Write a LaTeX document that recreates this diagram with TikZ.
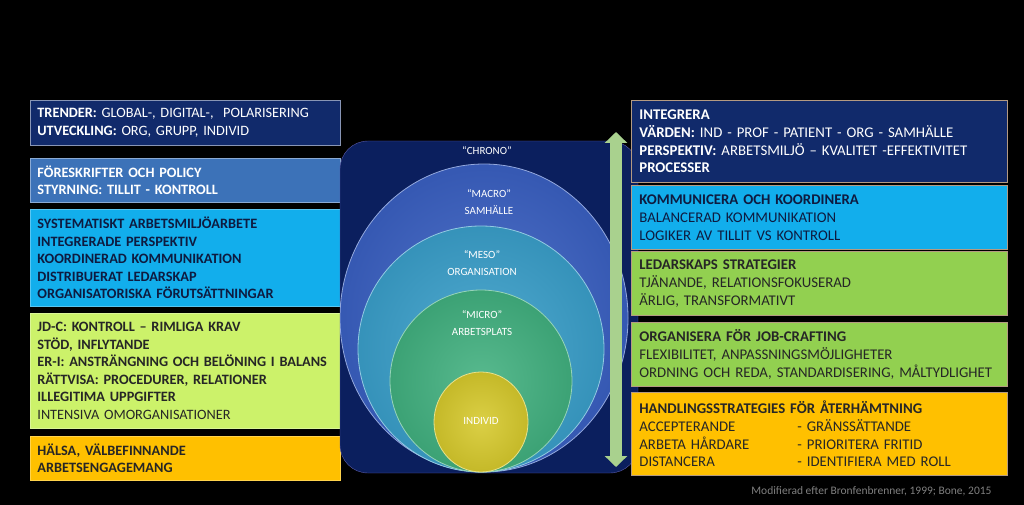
\documentclass[tikz,border=0pt]{standalone}
\usepackage{fontspec}
\setmainfont{Carlito}
\usepackage{tikz}
\usetikzlibrary{positioning, arrows.meta}

\definecolor{navybox}{HTML}{112A6B}
\definecolor{steelbox}{HTML}{3C72B8}
\definecolor{cyanbox}{HTML}{12AEEC}
\definecolor{limebox}{HTML}{CCF26A}
\definecolor{greenbox}{HTML}{92D050}
\definecolor{orangebox}{HTML}{FFC000}
\definecolor{chronobg}{HTML}{0B1F5E}
\definecolor{macrofill}{HTML}{3A60C2}
\definecolor{mesofill}{HTML}{3A9FCA}
\definecolor{microfill}{HTML}{41B07F}
\definecolor{individfill}{HTML}{D6C92C}
\definecolor{arrowgreen}{HTML}{A9D18E}
\definecolor{darktext}{HTML}{0E1B40}
\definecolor{tanline}{HTML}{B49A82}

\tikzset{
  lbox/.style={anchor=north west, inner xsep=7pt, inner ysep=0pt, text width=296pt,
    align=left, font=\fontsize{14.3}{17.5}\selectfont, line width=0.8pt},
  rbox/.style={anchor=north west, inner xsep=8pt, inner ysep=0pt, text width=360pt,
    align=left, font=\fontsize{14.8}{17.8}\selectfont, line width=0.8pt, draw=tanline},
  ringlabel/.style={text=white, align=center, font=\fontsize{11}{16.5}\selectfont},
  ring/.style={inner color=#1!88!white, outer color=#1!92!black, draw=#1!55!white, line width=0.8pt}
}

\begin{document}
\begin{tikzpicture}[x=1pt, y=-1pt]
    % Background
    \fill [black] (0,0) rectangle (1024,505);
    \useasboundingbox (0,0) rectangle (1024,505);

    % Left boxes
    \node [lbox, fill=navybox, draw=navybox!50!white, text=white, minimum height=45pt] (trender) at (30,100)
      {\textbf{TRENDER:} GLOBAL-, DIGITAL-,\ \ POLARISERING\\\textbf{UTVECKLING:} ORG, GRUPP, INDIVID};
    \node [lbox, fill=steelbox, draw=steelbox!60!white, text=white, minimum height=44pt] (policy) at (30,158)
      {\textbf{FÖRESKRIFTER OCH POLICY\\STYRNING: TILLIT - KONTROLL}};
    \node [lbox, fill=cyanbox, draw=cyanbox!70!white, text=darktext, minimum height=97pt] (sam) at (30,209)
      {\textbf{SYSTEMATISKT ARBETSMILJÖARBETE\\INTEGRERADE PERSPEKTIV\\KOORDINERAD KOMMUNIKATION\\DISTRIBUERAT LEDARSKAP\\ORGANISATORISKA FÖRUTSÄTTNINGAR}};
    \node [lbox, fill=limebox, draw=limebox!70!white, text=black!85, minimum height=115pt] (jdc) at (30,313)
      {\textbf{JD-C: KONTROLL – RIMLIGA KRAV\\STÖD, INFLYTANDE\\ER-I: ANSTRÄNGNING OCH BELÖNING I BALANS\\RÄTTVISA: PROCEDURER, RELATIONER\\ILLEGITIMA UPPGIFTER}\\INTENSIVA OMORGANISATIONER};
    \node [lbox, fill=orangebox, draw=orangebox!70!white, text=black!85, minimum height=44pt] (halsa) at (30,436)
      {\textbf{HÄLSA, VÄLBEFINNANDE\\ARBETSENGAGEMANG}};

    % Chrono frame and rings
    \draw [rounded corners=28pt, fill=chronobg, draw=blue!30!gray] (340,141) rectangle (638,473);
    \begin{scope}
      \clip [rounded corners=28pt] (340,141) rectangle (638,473);
      \draw [ring=macrofill] (484,318) ellipse [x radius=144, y radius=154];
      \draw [ring=mesofill] (481,349) circle [radius=123];
      \draw [ring=microfill] (481,381) circle [radius=91];
      \draw [ring=individfill] (481,422) ellipse [x radius=47, y radius=50];
    \end{scope}
    \node [ringlabel] (chrono) at (487,151) {“CHRONO”};
    \node [ringlabel] (macro) at (489,202) {“MACRO”\\SAMHÄLLE};
    \node [ringlabel] (meso) at (482,263) {“MESO”\\ORGANISATION};
    \node [ringlabel] (micro) at (482,323) {“MICRO”\\ARBETSPLATS};
    \node [ringlabel] (individ) at (481,421) {INDIVID};

    % Time arrow
    \coordinate (timetop) at (616,132);
    \coordinate (timebottom) at (616,467);
    \draw [arrowgreen, line width=12pt, {Triangle[length=11pt, width=22pt]}-{Triangle[length=11pt, width=22pt]}] (timetop) -- (timebottom);

    % Right boxes
    \node [rbox, fill=navybox, text=white, minimum height=82pt] (integrera) at (631,100)
      {\textbf{INTEGRERA}\\\textbf{VÄRDEN:} IND - PROF - PATIENT - ORG - SAMHÄLLE\\\textbf{PERSPEKTIV:} ARBETSMILJÖ – KVALITET -EFFEKTIVITET\\\textbf{PROCESSER}};
    \node [rbox, fill=cyanbox, text=darktext, minimum height=64pt] (kommunicera) at (631,185)
      {\textbf{KOMMUNICERA OCH KOORDINERA}\\BALANCERAD KOMMUNIKATION\\LOGIKER AV TILLIT VS KONTROLL};
    \node [rbox, fill=greenbox, text=black!85, minimum height=64pt] (ledarskap) at (631,251)
      {\textbf{LEDARSKAPS STRATEGIER}\\TJÄNANDE, RELATIONSFOKUSERAD\\ÄRLIG, TRANSFORMATIVT};
    \node [rbox, fill=greenbox, text=black!85, minimum height=64pt] (jobcrafting) at (631,322)
      {\textbf{ORGANISERA FÖR JOB-CRAFTING}\\FLEXIBILITET, ANPASSNINGSMÖJLIGHETER\\ORDNING OCH REDA, STANDARDISERING, MÅLTYDLIGHET};
    \node [rbox, fill=orangebox, text=black!85, minimum height=83pt] (aterhamtning) at (631,392)
      {\textbf{HANDLINGSSTRATEGIES FÖR ÅTERHÄMTNING}\\\makebox[158pt][l]{ACCEPTERANDE}- GRÄNSSÄTTANDE\\\makebox[158pt][l]{ARBETA HÅRDARE}- PRIORITERA FRITID\\\makebox[158pt][l]{DISTANCERA}- IDENTIFIERA MED ROLL};

    % Source
    \node [anchor=east, text=gray, font=\fontsize{11.5}{13}\selectfont] (source) at (995,491) {Modifierad efter Bronfenbrenner, 1999; Bone, 2015};
\end{tikzpicture}
\end{document}
